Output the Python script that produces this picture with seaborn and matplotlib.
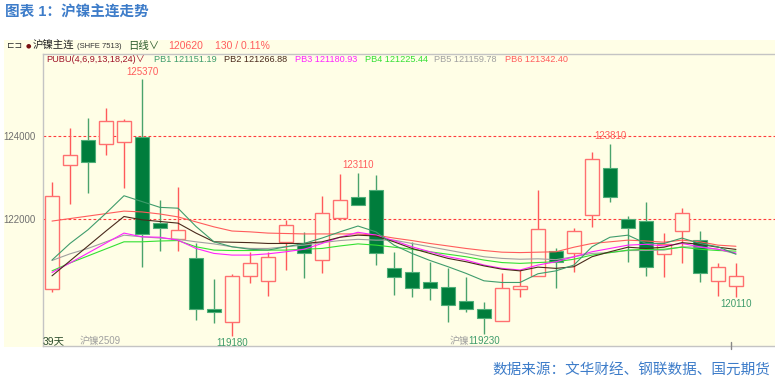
import numpy as np
import pandas as pd
import matplotlib.pyplot as plt
import seaborn as sns
from matplotlib.patches import Rectangle

# 日K数据 (沪镍主连, 39天)
days = list(range(1, 40))
opens = [120310, 123300, 123900, 123810, 123850, 123980, 121910, 121510, 121050, 119830,
         119520, 120630, 120500, 121440, 121430, 121000, 122020, 122530, 122710, 120810,
         120730, 120490, 120350, 120020, 119820, 119550, 120320, 120630, 121240, 121190,
         122100, 123220, 122000, 121940, 121160, 121720, 121500, 120500, 120390]
highs = [122890, 124190, 124430, 124670, 124410, 125370, 122460, 122780, 121410, 120550,
         120670, 121200, 121200, 121980, 121680, 122560, 123080, 123110, 123060, 121210,
         121450, 120960, 120810, 120590, 120000, 120690, 120770, 122700, 121290, 121780,
         123610, 123810, 122080, 122400, 121660, 122260, 121720, 120950, 120930]
lows = [120240, 122360, 122630, 123530, 122750, 120840, 121230, 121230, 119570, 119490,
        119180, 120450, 120150, 120770, 120570, 120710, 121980, 122340, 120890, 120170,
        120130, 120050, 119510, 119770, 119230, 119550, 120130, 120630, 120330, 120730,
        121800, 122410, 120970, 120630, 120610, 120930, 120490, 120150, 120110]
closes = [122550, 123530, 123370, 124360, 124360, 121630, 121790, 121730, 119830, 119770,
          120630, 120930, 121080, 121860, 121180, 122140, 122460, 122340, 121190, 120590,
          120330, 120330, 119930, 119820, 119610, 120330, 120390, 121760, 120970, 121710,
          123450, 122540, 121790, 120850, 121390, 122140, 120710, 120850, 120620]

# PUBU 指标线
pb1 = [121010, 121410, 121740, 122140, 122560, 122420, 122280, 122260, 121820, 121450,
       121330, 121270, 121250, 121330, 121410, 121540, 121690, 121830, 121690, 121370,
       121170, 121000, 120850, 120690, 120510, 120470, 120470, 120680, 120750, 120890,
       121330, 121560, 121610, 121410, 121410, 121540, 121410, 121330, 121151.19]
pb2 = [120630, 120990, 121350, 121710, 122060, 121980, 121940, 121900, 121660, 121450,
       121440, 121430, 121410, 121410, 121410, 121450, 121560, 121610, 121590, 121450,
       121290, 121170, 121050, 120970, 120870, 120790, 120750, 120840, 120810, 120850,
       121090, 121210, 121320, 121290, 121320, 121430, 121390, 121320, 121266.88]
pb3 = [120710, 120940, 121180, 121420, 121660, 121570, 121560, 121490, 121290, 121170,
       121130, 121130, 121160, 121210, 121270, 121410, 121560, 121680, 121610, 121480,
       121330, 121210, 121090, 121010, 120890, 120810, 120770, 120890, 120970, 121090,
       121210, 121290, 121370, 121390, 121350, 121410, 121330, 121270, 121180.93]
pb4 = [120750, 120940, 121110, 121280, 121450, 121450, 121470, 121480, 121330, 121250,
       121240, 121240, 121250, 121250, 121270, 121290, 121350, 121400, 121370, 121320,
       121270, 121210, 121150, 121090, 121010, 120950, 120930, 120950, 120970, 121030,
       121130, 121190, 121250, 121270, 121270, 121320, 121270, 121240, 121225.44]
pb5 = [121000, 121160, 121290, 121450, 121610, 121570, 121540, 121510, 121450, 121400,
       121330, 121290, 121290, 121330, 121370, 121430, 121480, 121510, 121490, 121490,
       121410, 121330, 121250, 121170, 121090, 121050, 121030, 121040, 121020, 121090,
       121170, 121190, 121240, 121240, 121250, 121330, 121320, 121270, 121159.78]
pb6 = [121950, 122010, 122070, 122130, 122190, 122170, 122120, 122050, 121930, 121810,
       121710, 121690, 121660, 121650, 121640, 121640, 121640, 121640, 121610, 121540,
       121480, 121410, 121350, 121290, 121240, 121200, 121190, 121200, 121210, 121320,
       121410, 121450, 121490, 121470, 121440, 121490, 121450, 121370, 121342.40]

pb_names = ['PB1', 'PB2', 'PB3', 'PB4', 'PB5', 'PB6']
pb_colors = {'PB1': '#3f9c6c', 'PB2': '#4a2a1c', 'PB3': '#ff22ff',
             'PB4': '#33e033', 'PB5': '#a0a0a0', 'PB6': '#ff5c5c'}

panel = '#fffee6'
up_edge, up_wick = '#ff7070', '#ff5a5a'
dn_face, dn_edge, dn_wick = '#007d3c', '#4fae78', '#4aa36c'

W, H = 775, 384
fx = lambda x: x / W
fy = lambda y: 1 - y / H

sns.set_style("white")
plt.rcParams['font.family'] = ['Liberation Sans', 'Noto Sans CJK SC', 'DejaVu Sans']

fig = plt.figure(figsize=(W / 100, H / 100), dpi=100)
fig.patch.set_facecolor('white')
fig.patches.append(Rectangle((fx(4), fy(347)), (W - 4) / W, (347 - 40) / H,
                             transform=fig.transFigure, facecolor=panel,
                             edgecolor='none', zorder=-10))

ax = fig.add_axes([fx(43), fy(346), (W - 43) / W, (346 - 54) / H])
ax.set_facecolor(panel)

# 指标线
df = pd.DataFrame({'day': days, 'PB1': pb1, 'PB2': pb2, 'PB3': pb3,
                   'PB4': pb4, 'PB5': pb5, 'PB6': pb6})
long_df = df.melt(id_vars='day', var_name='line', value_name='value')
sns.lineplot(data=long_df, x='day', y='value', hue='line', hue_order=pb_names[::-1],
             palette=pb_colors, linewidth=0.8, legend=False, ax=ax, zorder=4)

# K线
o, h, l, c = map(np.array, (opens, highs, lows, closes))
up = c >= o
x = np.array(days)
ax.vlines(x[up], l[up], h[up], color=up_wick, linewidth=1.0, zorder=2)
ax.vlines(x[~up], l[~up], h[~up], color=dn_wick, linewidth=1.0, zorder=2)
ax.bar(x[up], c[up] - o[up], bottom=o[up], width=0.82, facecolor=panel,
       edgecolor=up_edge, linewidth=1.0, zorder=3)
ax.bar(x[~up], o[~up] - c[~up], bottom=c[~up], width=0.82, facecolor=dn_face,
       edgecolor=dn_edge, linewidth=0.8, zorder=3)

for lvl in (122000, 124000):
    ax.axhline(lvl, color='#ff3b3b', linestyle=(0, (2.5, 2)), linewidth=0.8, zorder=1)

ax.set_xlim(0.5, 41.17)
ax.set_ylim(118939, 125976)
ax.set_xlabel('')
ax.set_ylabel('')
ax.set_xticks([])
ax.set_yticks([122000, 124000])
ax.set_yticklabels(['122000', '124000'])
ax.tick_params(axis='y', length=3, width=0.8, color='#a0a0a0', labelsize=7,
               labelcolor='#707070', pad=2)
for side in ('left', 'bottom', 'top'):
    ax.spines[side].set_color('#c4c4c4')
    ax.spines[side].set_linewidth(1.0)
ax.spines['right'].set_visible(False)

# 高低点标注
hi_marks = [(6, 125370), (18, 123110), (32, 123810)]
lo_marks = [(11, 119180), (25, 119230), (39, 120110)]
for d, v in hi_marks:
    ax.text(d, highs[d - 1] + 60, str(v), ha='center', va='bottom',
            fontsize=7, color='#ff5c5c', zorder=6)
for d, v in lo_marks:
    ax.text(d, lows[d - 1] - 40, str(v), ha='center', va='top',
            fontsize=7, color='#3f9c6c', zorder=6)

# 标题
fig.text(fx(5), fy(13), '图表 1：沪镍主连走势', fontsize=10.5, fontweight='bold',
         color='#3d7cc9', ha='left', va='center')

# 行情栏
r1 = fy(46)
fig.text(fx(7), r1, '⊏⊐', fontsize=6.5, color='#333333', va='center',
         family=['DejaVu Sans'])
fig.text(fx(26), r1, '●', fontsize=4.5, color='#7a1010', va='center',
         family=['DejaVu Sans'])
fig.text(fx(33), r1, '沪镍主连', fontsize=7.5, color='#222222', va='center')
fig.text(fx(77), r1, '(SHFE 7513)', fontsize=5.5, color='#333333', va='center')
fig.text(fx(128), r1, '日线∨', fontsize=7.5, color='#2b5a2b', va='center')
fig.text(fx(168), r1, '120620', fontsize=7.5, color='#ff5c5c', va='center')
fig.text(fx(215), r1, '130 / 0.11%', fontsize=7.5, color='#ff5c5c', va='center')

r2 = fy(60)
fig.text(fx(46), r2, 'PUBU(4,6,9,13,18,24)∨', fontsize=6.6, color='#a0142a', va='center')
pb_last = ['121151.19', '121266.88', '121180.93', '121225.44', '121159.78', '121342.40']
pb_x = [154, 224, 295, 365, 434, 505]
for name, val, px in zip(pb_names, pb_last, pb_x):
    fig.text(fx(px), r2, f'{name} {val}', fontsize=6.6, color=pb_colors[name], va='center')

# 底部
fig.text(fx(43), fy(341), '39天', fontsize=7.5, color='#2d4d2d', va='center')
fig.text(fx(80), fy(341), '沪镍2509', fontsize=7, color='#a0a0a0', va='center')
fig.text(fx(450), fy(341), '沪镍', fontsize=7, color='#a0a0a0', va='center')
fig.add_artist(plt.Line2D([fx(731), fx(731)], [fy(342), fy(349)],
                          color='#888888', linewidth=1.0))

fig.text(fx(770), fy(371), '数据来源：文华财经、钢联数据、国元期货', fontsize=10.5,
         color='#3d7cc9', ha='right', va='center')

fig.savefig('out.png', dpi=100, facecolor='white')
